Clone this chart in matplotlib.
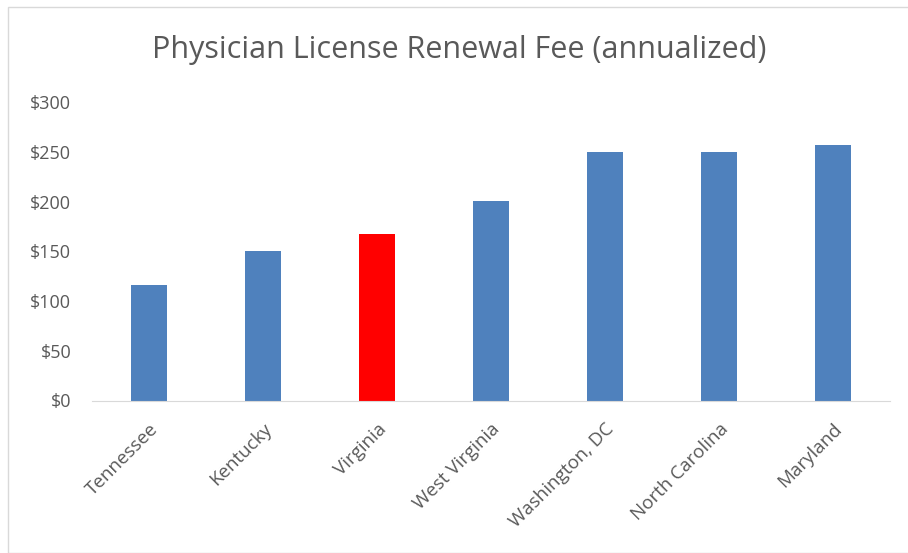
import matplotlib
matplotlib.use("Agg")
from matplotlib import pyplot as plt
from matplotlib.patches import Rectangle

states = ['Tennessee', 'Kentucky', 'Virginia', 'West Virginia',
          'Washington, DC', 'North Carolina', 'Maryland']
fees = [116.5, 150, 167.5, 200, 250, 250, 256.5]
highlight = 'Virginia'
y_ticks = [0, 50, 100, 150, 200, 250, 300]
y_labels = ['$0', '$50', '$100', '$150', '$200', '$250', '$300']

plt.rcParams['font.family'] = ['Open Sans', 'DejaVu Sans']

fig = plt.figure(figsize=(9.08, 5.53), dpi=100)
ax = fig.add_axes([92 / 908, 1 - 400.5 / 553, 798 / 908, 298.5 / 553])

colors = ['#ff0000' if s == highlight else '#4f81bd' for s in states]
x = range(len(states))
ax.bar(x, fees, width=0.31, color=colors)

ax.set_xlim(-0.5, len(states) - 0.5)
ax.set_ylim(0, 300)
ax.set_yticks(y_ticks)
ax.set_yticklabels(y_labels)
ax.set_xticks(list(x))
ax.set_xticklabels(states, rotation=45, ha='right', rotation_mode='anchor')
ax.tick_params(axis='both', length=0, colors='#595959')
ax.tick_params(axis='y', pad=15, labelsize=13)
ax.tick_params(axis='x', pad=14, labelsize=13.5)

for side in ['top', 'right', 'left']:
    ax.spines[side].set_visible(False)
ax.spines['bottom'].set_color('#d9d9d9')

fig.text(0.506, 1 - 50 / 553, 'Physician License Renewal Fee (annualized)',
         ha='center', va='center', fontsize=22, color='#595959')

# chart border
fig.patches.append(Rectangle((8 / 908, 0), 1, 1 - 7 / 553, transform=fig.transFigure,
                             fill=False, edgecolor='#d9d9d9', linewidth=1))

fig.savefig('out.png', dpi=100)
